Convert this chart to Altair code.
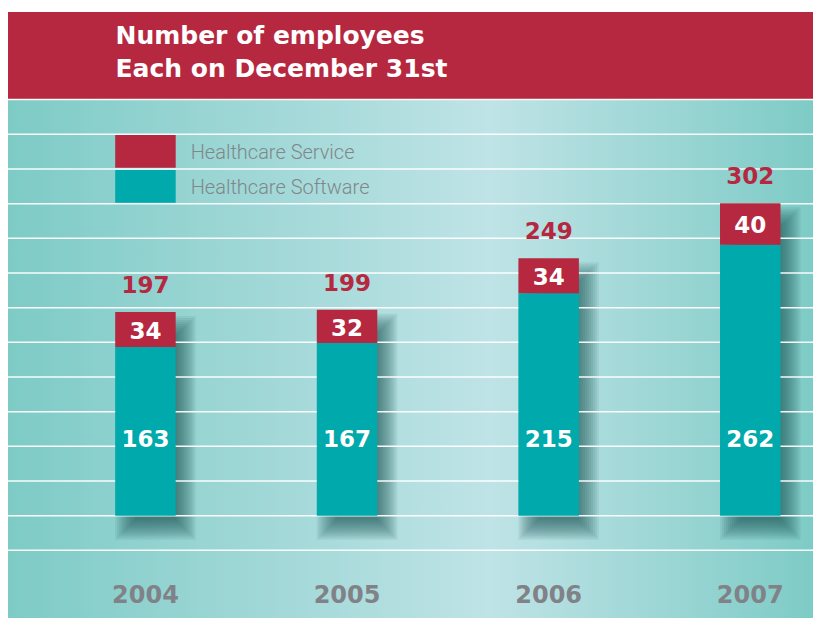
import altair as alt
import pandas as pd

# ---- data ----
years = ["2004", "2005", "2006", "2007"]
software = [163, 167, 215, 262]
service = [34, 32, 34, 40]
totals = [197, 199, 249, 302]
title_lines = ["Number of employees", "Each on December 31st"]
legend_labels = ["Healthcare Service", "Healthcare Software"]

# decorative horizontal guide lines (in employee units)
grid_step = 33.52
grid_levels = [k * grid_step for k in range(-1, 13)]

RED = "#b5283f"
TEAL = "#00a9ab"
NUM_FONT = "DejaVu Sans"

W, H = 805, 606

df = pd.DataFrame({"year": years, "software": software, "service": service, "total": totals})
df["mid"] = df["software"] + df["service"] / 2
grid_df = pd.DataFrame({"level": grid_levels})
one = pd.DataFrame({"k": [0]})

xscale = alt.Scale(domain=years, range=[0, 879.7], paddingInner=0.7, paddingOuter=0.5317)
yscale = alt.Scale(domain=[-98.9, 486.95], nice=False, zero=False)

x_enc = alt.X(
    "year:N", scale=xscale, sort=years,
    axis=alt.Axis(orient="bottom", offset=-35, labelPadding=0, domain=False, ticks=False,
                  grid=False, labelFont=NUM_FONT, labelFontWeight="bold", labelFontSize=24,
                  labelColor="#808287", labelAngle=0, title=None, zindex=1,
                  labelBaseline="top"),
)

def Y(field):
    return alt.Y(field, scale=yscale, axis=None, title=None)

gradient = alt.LinearGradient(
    gradient="linear", x1=0, x2=1, y1=0, y2=0,
    stops=[alt.GradientStop(color="#7ecbc6", offset=0),
           alt.GradientStop(color="#bfe3e6", offset=0.6),
           alt.GradientStop(color="#7ecbc6", offset=1)],
)

background = alt.Chart(one).mark_rect(color=gradient).encode(
    x=alt.value(0), x2=alt.value(W), y=alt.value(87.5), y2=alt.value(H)
)

header = alt.Chart(one).mark_rect(color=RED).encode(
    x=alt.value(0), x2=alt.value(W), y=alt.value(0), y2=alt.value(87.5)
)

title = alt.Chart(one).mark_text(
    align="left", baseline="alphabetic", font=NUM_FONT, fontWeight="bold",
    fontSize=25, color="white", lineHeight=33.4,
).encode(x=alt.value(107.5), y=alt.value(31.5), text=alt.value(title_lines))

# soft drop shadow built from stacked translucent bars
shadows = []
for d in [-10, -8, -6, -4, -2, 0, 2, 4, 6, 8, 10]:
    shadows.append(
        alt.Chart(df).mark_bar(
            width=60.5 - 2 * d, xOffset=10, yOffset=14 + d, y2Offset=14 - d,
            color="#1a4d50", opacity=0.085,
        ).encode(x=x_enc, y=Y("total:Q"), y2=alt.datum(0))
    )

grid = alt.Chart(grid_df).mark_rule(color="white", strokeWidth=1.5, opacity=0.95).encode(
    y=Y("level:Q")
)

bar_soft = alt.Chart(df).mark_bar(color=TEAL).encode(x=x_enc, y=Y("software:Q"), y2=alt.datum(0))
bar_serv = alt.Chart(df).mark_bar(color=RED).encode(x=x_enc, y=Y("total:Q"), y2="software:Q")

txt_total = alt.Chart(df).mark_text(
    font=NUM_FONT, fontWeight="bold", fontSize=23, color=RED, baseline="alphabetic", dy=-19
).encode(x=x_enc, y=Y("total:Q"), text="total:Q")

txt_serv = alt.Chart(df).mark_text(
    font=NUM_FONT, fontWeight="bold", fontSize=23, color="white", baseline="alphabetic", dy=9.4
).encode(x=x_enc, y=Y("mid:Q"), text="service:Q")

txt_soft = alt.Chart(df).mark_text(
    font=NUM_FONT, fontWeight="bold", fontSize=23, color="white", baseline="alphabetic", dy=8.4
).encode(x=x_enc, y=alt.Y(datum=74.6, scale=yscale, axis=None), text="software:Q")

leg_red = alt.Chart(one).mark_rect(color=RED).encode(
    x=alt.value(107.2), x2=alt.value(167.7), y=alt.value(123), y2=alt.value(155.7)
)
leg_teal = alt.Chart(one).mark_rect(color=TEAL).encode(
    x=alt.value(107.2), x2=alt.value(167.7), y=alt.value(158), y2=alt.value(190.7)
)
leg_txt1 = alt.Chart(one).mark_text(
    align="left", baseline="middle", font="Roboto", fontWeight=300, fontSize=20, color="#7f878a"
).encode(x=alt.value(182.7), y=alt.value(141), text=alt.value(legend_labels[0]))
leg_txt2 = alt.Chart(one).mark_text(
    align="left", baseline="middle", font="Roboto", fontWeight=300, fontSize=20, color="#7f878a"
).encode(x=alt.value(182.7), y=alt.value(175.5), text=alt.value(legend_labels[1]))

chart = alt.layer(
    background, header, title, *shadows, grid, bar_soft, bar_serv,
    txt_total, txt_serv, txt_soft, leg_red, leg_teal, leg_txt1, leg_txt2,
).properties(
    width=W, height=H,
    autosize=alt.AutoSizeParams(type="none"),
    padding={"left": 0, "top": 4, "right": 0, "bottom": 0},
).configure_view(stroke=None)

chart.save("out.html", embed_options={"renderer": "svg", "actions": False})
